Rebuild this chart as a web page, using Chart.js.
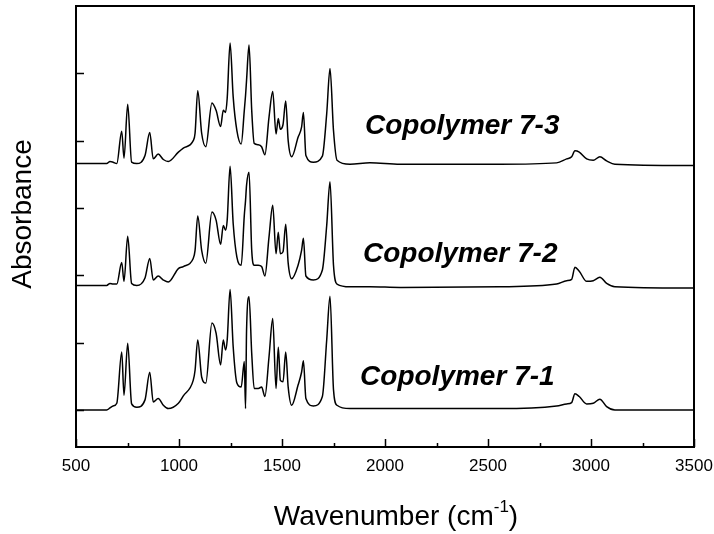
<!DOCTYPE html>
<html>
<head>
<meta charset="utf-8">
<script src="https://cdn.jsdelivr.net/npm/chart.js@4.4.1/dist/chart.umd.min.js"></script>
<style>
  html, body { margin: 0; padding: 0; background: #fff; }
  #wrap { width: 714px; height: 534px; position: relative; }
</style>
</head>
<body>
<div id="wrap"><canvas id="ir-chart"></canvas></div>
<script>
// FTIR spectra of copolymers 7-1 / 7-2 / 7-3, stacked with offsets
const wavenumbers = [
  500, 649, 665, 680, 698, 722, 733, 751, 770, 795,
  835, 858, 875, 899, 924, 948, 997, 1021, 1069, 1078,
  1091, 1110, 1130, 1160, 1180, 1202, 1215, 1226, 1234, 1248,
  1263, 1281, 1302, 1317, 1323, 1328, 1340, 1353, 1365, 1385,
  1401, 1417, 1437, 1455, 1471, 1482, 1492, 1505, 1518, 1530,
  1547, 1578, 1595, 1604, 1616, 1652, 1696, 1717, 1733, 1750,
  1767, 1830, 1927, 2073, 2558, 2833, 2882, 2906, 2922, 2943,
  2979, 3011, 3043, 3076, 3116, 3500
];

const copolymer71 = [
  0.00, 0.00, 0.03, 0.06, 0.10, 0.86, 0.22, 0.99, 0.09, 0.04,
  0.15, 0.56, 0.12, 0.17, 0.07, 0.02, 0.10, 0.21, 0.44, 0.59,
  1.04, 0.49, 0.40, 1.29, 1.14, 0.67, 1.04, 0.89, 1.04, 1.79,
  0.94, 0.40, 0.34, 0.72, 0.02, 1.19, 1.68, 0.84, 0.32, 0.32,
  0.34, 0.20, 0.79, 1.36, 0.32, 0.93, 0.44, 0.42, 0.86, 0.34,
  0.07, 0.37, 0.56, 0.73, 0.17, 0.06, 0.20, 1.04, 1.69, 0.30,
  0.07, 0.02, 0.02, 0.02, 0.02, 0.06, 0.09, 0.11, 0.24, 0.20,
  0.09, 0.10, 0.16, 0.05, 0.00, 0.00
];

const copolymer72 = [
  1.85, 1.85, 1.88, 1.87, 1.87, 2.19, 1.91, 2.58, 1.88, 1.85,
  1.96, 2.25, 1.93, 1.99, 1.93, 1.90, 2.10, 2.13, 2.25, 2.37,
  2.88, 2.37, 2.18, 2.94, 2.82, 2.46, 2.74, 2.67, 2.82, 3.62,
  2.77, 2.27, 2.15, 2.89, 3.11, 3.34, 3.53, 2.37, 2.15, 2.15,
  2.13, 1.99, 2.57, 3.04, 2.32, 2.64, 2.32, 2.35, 2.76, 2.18,
  1.95, 2.15, 2.37, 2.55, 1.99, 1.93, 2.08, 2.74, 3.39, 2.15,
  1.87, 1.83, 1.83, 1.82, 1.83, 1.87, 1.92, 1.94, 2.12, 2.06,
  1.91, 1.92, 1.97, 1.88, 1.83, 1.81
];

const copolymer73 = [
  3.66, 3.66, 3.69, 3.68, 3.66, 4.14, 3.74, 4.54, 3.68, 3.66,
  3.78, 4.12, 3.73, 3.80, 3.72, 3.69, 3.83, 3.89, 4.00, 4.11,
  4.74, 4.11, 3.91, 4.56, 4.45, 4.21, 4.45, 4.42, 4.63, 5.45,
  4.65, 4.15, 3.95, 4.45, 4.67, 4.90, 5.42, 4.45, 3.96, 3.94,
  3.91, 3.79, 4.35, 4.73, 4.10, 4.33, 4.17, 4.24, 4.59, 4.00,
  3.76, 4.05, 4.20, 4.42, 3.78, 3.68, 3.77, 4.40, 5.07, 4.15,
  3.71, 3.65, 3.67, 3.65, 3.65, 3.67, 3.73, 3.76, 3.85, 3.83,
  3.73, 3.71, 3.76, 3.70, 3.65, 3.63
];

const seriesNames = ['Copolymer 7-1', 'Copolymer 7-2', 'Copolymer 7-3'];
const xMajorTicks = [500, 1000, 1500, 2000, 2500, 3000, 3500];
const xMinorTicks = [750, 1250, 1750, 2250, 2750, 3250];
const yMajorTicks = [0, 1, 2, 3, 4, 5];

const FONT = '"Liberation Sans", Arial, Helvetica, sans-serif';

function toPoints(values) {
  return wavenumbers.map((w, i) => ({ x: w, y: values[i] }));
}

function spectrum(label, values) {
  return {
    label,
    data: toPoints(values),
    borderColor: '#000',
    borderWidth: 1.5,
    pointRadius: 0,
    fill: false,
    cubicInterpolationMode: 'monotone',
  };
}

// frame (top/right), inward tick marks, axis titles, series labels
const frameAndText = {
  id: 'frameAndText',
  afterDraw(chart, args, opts) {
    const { ctx, chartArea: a, scales: { x, y } } = chart;
    ctx.save();
    ctx.strokeStyle = '#000';
    ctx.lineWidth = 2;
    ctx.beginPath();
    ctx.moveTo(a.left - 1, a.top);
    ctx.lineTo(a.right, a.top);
    ctx.lineTo(a.right, a.bottom + 1);
    ctx.stroke();

    ctx.lineWidth = 1.5;
    ctx.beginPath();
    xMajorTicks.forEach(v => {
      const px = Math.round(x.getPixelForValue(v)) + 0.5;
      ctx.moveTo(px, a.bottom); ctx.lineTo(px, a.bottom - 8);
    });
    xMinorTicks.forEach(v => {
      const px = Math.round(x.getPixelForValue(v)) + 0.5;
      ctx.moveTo(px, a.bottom); ctx.lineTo(px, a.bottom - 4);
    });
    yMajorTicks.forEach(v => {
      const py = Math.round(y.getPixelForValue(v)) + 0.5;
      ctx.moveTo(a.left, py); ctx.lineTo(a.left + 8, py);
    });
    ctx.stroke();

    ctx.fillStyle = '#000';
    // series labels
    ctx.font = 'italic bold 28px ' + FONT;
    ctx.textBaseline = 'middle';
    ctx.textAlign = 'left';
    opts.labels.forEach((l, i) => {
      ctx.fillText(seriesNames[i], x.getPixelForValue(l.x), y.getPixelForValue(l.y));
    });

    // x title with superscript
    const main = 'Wavenumber (cm';
    const sup = '-1';
    const close = ')';
    ctx.font = '28px ' + FONT;
    const wMain = ctx.measureText(main).width;
    const wClose = ctx.measureText(close).width;
    ctx.font = '17px ' + FONT;
    const wSup = ctx.measureText(sup).width;
    const total = wMain + wSup + wClose;
    let tx = opts.xTitleCenter - total / 2;
    const ty = opts.xTitleY;
    ctx.textBaseline = 'alphabetic';
    ctx.font = '28px ' + FONT;
    ctx.fillText(main, tx, ty);
    tx += wMain;
    ctx.font = '17px ' + FONT;
    ctx.fillText(sup, tx, ty - 13);
    tx += wSup;
    ctx.font = '28px ' + FONT;
    ctx.fillText(close, tx, ty);

    // y title
    ctx.translate(opts.yTitleX, opts.yTitleY);
    ctx.rotate(-Math.PI / 2);
    ctx.textAlign = 'center';
    ctx.textBaseline = 'middle';
    ctx.font = '28px ' + FONT;
    ctx.fillText('Absorbance', 0, 0);
    ctx.restore();
  }
};

new Chart(document.getElementById('ir-chart'), {
  type: 'line',
  data: {
    datasets: [
      spectrum(seriesNames[0], copolymer71),
      spectrum(seriesNames[1], copolymer72),
      spectrum(seriesNames[2], copolymer73),
    ],
  },
  options: {
    responsive: true,
    maintainAspectRatio: false,
    animation: false,
    layout: { padding: { top: 6, right: 0, left: 0, bottom: 0 } },
    plugins: {
      legend: { display: false },
      tooltip: { enabled: false },
      frameAndText: {
        labels: [
          { x: 1879, y: 0.49 },
          { x: 1893, y: 2.31 },
          { x: 1903, y: 4.21 },
        ],
        xTitleCenter: 396,
        xTitleY: 525,
        yTitleX: 23,
        yTitleY: 214,
      },
    },
    scales: {
      x: {
        type: 'linear',
        min: 500,
        max: 3500,
        afterFit: s => { s.height = 87; s.paddingLeft = 0; s.paddingRight = 20; },
        afterBuildTicks: s => { s.ticks = xMajorTicks.map(v => ({ value: v })); },
        grid: { display: false, drawTicks: false },
        border: { display: true, color: '#000', width: 2 },
        ticks: {
          color: '#000',
          padding: 9,
          font: { family: FONT, size: 17 },
          callback: v => String(v),
        },
      },
      y: {
        type: 'linear',
        min: -0.55,
        max: 6,
        afterFit: s => { s.width = 76; },
        afterBuildTicks: s => { s.ticks = yMajorTicks.map(v => ({ value: v })); },
        grid: { display: false, drawTicks: false },
        border: { display: true, color: '#000', width: 2 },
        ticks: { display: false },
      },
    },
  },
  plugins: [frameAndText],
});
</script>
</body>
</html>
